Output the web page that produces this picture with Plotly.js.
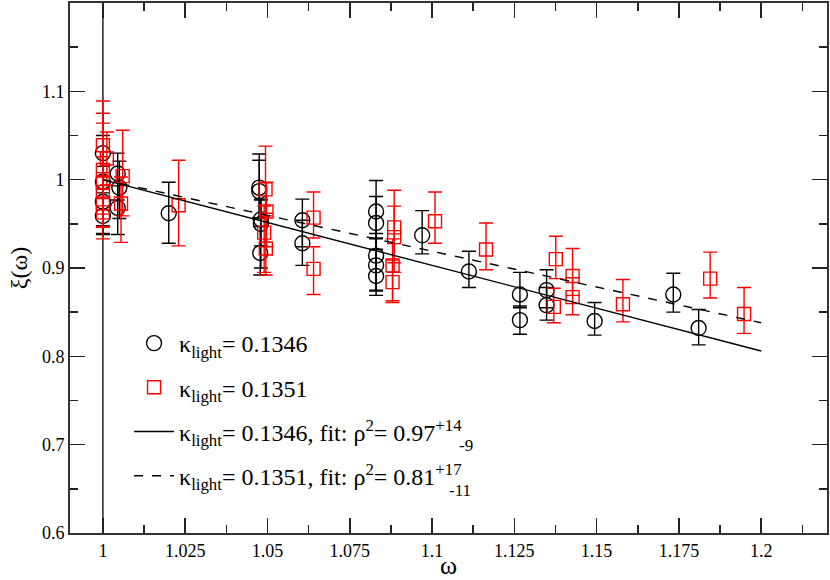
<!DOCTYPE html>
<html>
<head>
<meta charset="utf-8">
<script src="https://cdn.plot.ly/plotly-3.0.1.min.js"></script>
<style>
  html, body { margin: 0; padding: 0; background: #fff; }
  #chart { width: 830px; height: 580px; }
</style>
</head>
<body>
<div id="chart"></div>
<script>
// kappa_light = 0.1346 (black circles)
var black_x = [1.0, 1.0, 1.0, 1.0, 1.0045, 1.005, 1.0045, 1.020,
  1.0475, 1.0475, 1.048, 1.048, 1.0478, 1.0606, 1.0606,
  1.083, 1.083, 1.083, 1.083, 1.083, 1.097, 1.1112, 1.1267, 1.1267,
  1.1348, 1.1348, 1.1494, 1.1733, 1.181];
var black_y = [1.030, 0.998, 0.975, 0.959, 1.007, 0.991, 0.968, 0.962,
  0.991, 0.987, 0.955, 0.950, 0.917, 0.954, 0.928,
  0.964, 0.951, 0.914, 0.903, 0.891, 0.937, 0.896, 0.870, 0.841,
  0.875, 0.858, 0.840, 0.870, 0.832];
var black_err_up = [0.045, 0.052, 0.040, 0.030, 0.023, 0.030, 0.025, 0.035,
  0.038, 0.035, 0.022, 0.028, 0.030, 0.024, 0.026,
  0.035, 0.030, 0.025, 0.030, 0.030, 0.028, 0.023, 0.025, 0.016,
  0.023, 0.020, 0.021, 0.024, 0.021];
var black_err_down = [0.045, 0.050, 0.037, 0.020, 0.030, 0.035, 0.030, 0.034,
  0.035, 0.030, 0.030, 0.050, 0.025, 0.030, 0.025,
  0.030, 0.030, 0.040, 0.028, 0.022, 0.021, 0.018, 0.015, 0.016,
  0.020, 0.017, 0.016, 0.020, 0.019];

// kappa_light = 0.1351 (red squares)
var red_x = [1.0, 1.0, 1.0, 1.0, 1.0, 1.0, 1.0012, 1.006, 1.0055, 1.023,
  1.0494, 1.0497, 1.049, 1.0495, 1.064, 1.064,
  1.0885, 1.0885, 1.088, 1.088, 1.1009, 1.1164, 1.1376, 1.137,
  1.1427, 1.1427, 1.158, 1.1845, 1.1948];
var red_y = [1.039, 1.011, 0.997, 0.986, 0.973, 0.963, 1.024, 1.004, 0.973, 0.971,
  0.989, 0.964, 0.940, 0.922, 0.957, 0.899,
  0.946, 0.935, 0.903, 0.884, 0.953, 0.921, 0.910, 0.856,
  0.891, 0.867, 0.859, 0.888, 0.848];
var red_err_up = [0.050, 0.064, 0.067, 0.040, 0.035, 0.040, 0.030, 0.052, 0.030, 0.051,
  0.049, 0.033, 0.030, 0.040, 0.029, 0.025,
  0.042, 0.035, 0.030, 0.025, 0.033, 0.030, 0.026, 0.021,
  0.031, 0.022, 0.028, 0.030, 0.030];
var red_err_down = [0.050, 0.050, 0.050, 0.040, 0.027, 0.030, 0.030, 0.045, 0.044, 0.046,
  0.030, 0.040, 0.045, 0.030, 0.023, 0.029,
  0.040, 0.040, 0.040, 0.023, 0.025, 0.023, 0.022, 0.018,
  0.022, 0.020, 0.020, 0.022, 0.022];

// fit lines (end points)
var fit_x = [1.0, 1.2];
var fit1346_y = [1.0, 0.806];
var fit1351_y = [1.0, 0.838];

// vertical line at omega = 1
var wline_x = [1.0, 1.0];
var wline_y = [0.6, 1.2];

var y_ticks = [0.6, 0.7, 0.8, 0.9, 1.0, 1.1];

var serif = 'Liberation Serif';

var wline = {
    x: wline_x, y: wline_y,
    mode: 'lines', type: 'scatter',
    line: {color: 'black', width: 1.3},
    showlegend: false, hoverinfo: 'skip'
};

var black_pts = {
    x: black_x, y: black_y,
    mode: 'markers', type: 'scatter',
    name: 'κ<sub>light</sub>= 0.1346',
    legendgroup: 'a',
    marker: {symbol: 'circle-open', size: 15, color: 'black', line: {width: 1.4, color: 'black'}},
    error_y: {type: 'data', symmetric: false, array: black_err_up, arrayminus: black_err_down,
        color: 'black', thickness: 1.4, width: 7}
};

var red_pts = {
    x: red_x, y: red_y,
    mode: 'markers', type: 'scatter',
    name: 'κ<sub>light</sub>= 0.1351',
    legendgroup: 'b',
    marker: {symbol: 'square-open', size: 13, color: 'red', line: {width: 1.4, color: 'red'}},
    error_y: {type: 'data', symmetric: false, array: red_err_up, arrayminus: red_err_down,
        color: 'red', thickness: 1.4, width: 7}
};

var fit1 = {
    x: fit_x, y: fit1346_y,
    mode: 'lines', type: 'scatter',
    name: 'κ<sub>light</sub>= 0.1346, fit: ρ<sup>2</sup>= 0.97<sup>+14</sup>',
    legendgroup: 'c',
    line: {color: 'black', width: 1.4}
};

var fit2 = {
    x: fit_x, y: fit1351_y,
    mode: 'lines', type: 'scatter',
    name: 'κ<sub>light</sub>= 0.1351, fit: ρ<sup>2</sup>= 0.81<sup>+17</sup>',
    legendgroup: 'd',
    line: {color: 'black', width: 1.4, dash: 'dash'}
};

// lower errors of the fitted slopes, stacked under the upper ones
var sub_errs = [
    {text: '-9', x: 0.511, y: 0.166},
    {text: '-11', x: 0.498, y: 0.081}
];

var layout = {
    width: 830, height: 580,
    margin: {l: 70, r: 3, t: 3, b: 47},
    paper_bgcolor: 'white', plot_bgcolor: 'white',
    font: {family: serif, size: 18, color: 'black'},
    showlegend: true,
    legend: {
        x: 0.078, y: 0.40, xanchor: 'left', yanchor: 'top',
        bgcolor: 'rgba(0,0,0,0)', borderwidth: 0,
        tracegroupgap: 10, itemwidth: 40,
        font: {family: serif, size: 24, color: 'black'}
    },
    annotations: sub_errs.map(function(s) {
        return {text: s.text, xref: 'paper', yref: 'paper', x: s.x, y: s.y,
            xanchor: 'left', yanchor: 'middle', showarrow: false,
            font: {family: serif, size: 17, color: 'black'}};
    }),
    xaxis: {
        range: [0.99, 1.22],
        tick0: 1, dtick: 0.025,
        ticks: 'inside', ticklen: 15, tickwidth: 1.5, tickcolor: '#222',
        minor: {dtick: 0.0125, tick0: 1, ticks: 'inside', ticklen: 8, tickwidth: 1.5, tickcolor: '#222'},
        showgrid: false, zeroline: false,
        showline: true, linecolor: '#333', linewidth: 2, mirror: 'ticks',
        tickfont: {family: serif, size: 18},
        title: {text: 'ω', font: {family: serif, size: 26}, standoff: 4}
    },
    yaxis: {
        range: [0.6, 1.2],
        tickmode: 'array', tickvals: y_ticks,
        ticks: 'inside', ticklen: 15, tickwidth: 1.5, tickcolor: '#222',
        minor: {dtick: 0.05, tick0: 0.6, ticks: 'inside', ticklen: 8, tickwidth: 1.5, tickcolor: '#222'},
        showgrid: false, zeroline: false,
        showline: true, linecolor: '#333', linewidth: 2, mirror: 'ticks',
        tickfont: {family: serif, size: 18},
        title: {text: 'ξ(ω)', font: {family: serif, size: 24}, standoff: 8}
    }
};

Plotly.newPlot('chart', [wline, black_pts, red_pts, fit1, fit2], layout, {displayModeBar: false, staticPlot: true});
</script>
</body>
</html>
